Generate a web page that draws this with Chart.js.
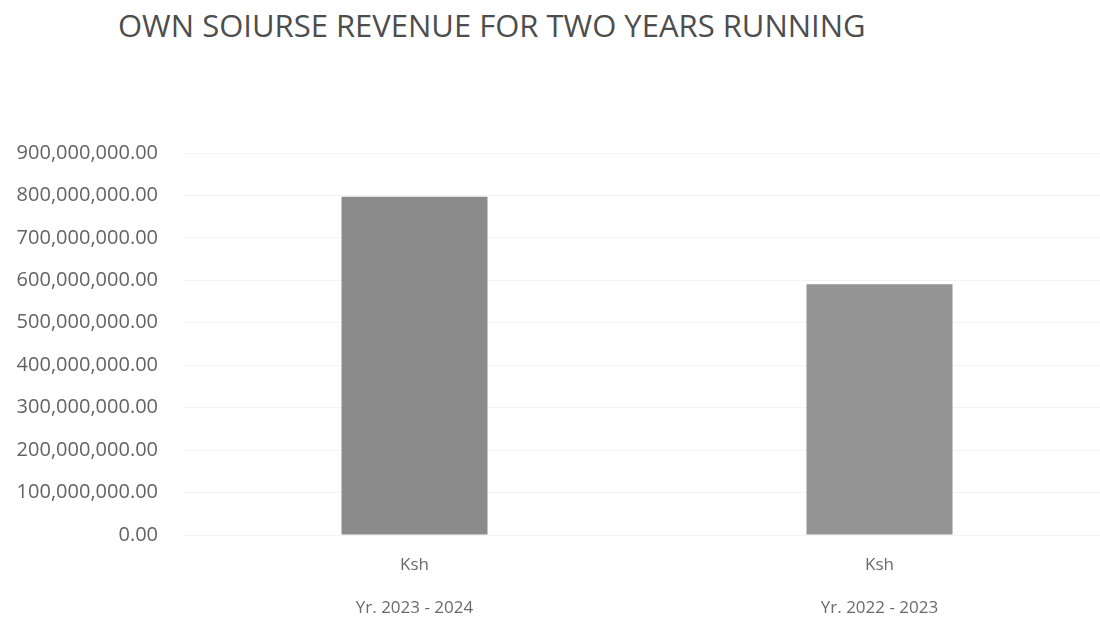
<!DOCTYPE html>
<html>
<head>
<meta charset="utf-8">
<script src="https://cdn.jsdelivr.net/npm/chart.js@4/dist/chart.umd.min.js"></script>
<style>
    html, body { margin: 0; padding: 0; background: #fff; overflow: hidden; }
    #title {
        position: absolute; left: 118px; top: 4px;
        font-family: 'Open Sans', sans-serif; font-size: 31px; color: #4d4d4d;
        white-space: nowrap;
    }
    #wrap { position: absolute; left: 0; top: 0; width: 1112px; height: 618px; }
</style>
</head>
<body>
<div id="title">OWN SOIURSE REVENUE FOR TWO YEARS RUNNING</div>
<div id="wrap"><canvas id="chart"></canvas></div>
<script>
// Own source revenue, Ksh
const CATEGORIES = [['Ksh', '', 'Yr. 2023 - 2024'], ['Ksh', '', 'Yr. 2022 - 2023']];
const REVENUE = [797000000, 591000000];
const BAR_COLORS = ['#8b8b8b', '#949494'];
const Y_MAX = 900000000;
const Y_STEP = 100000000;

const fmt = v => v.toLocaleString('en-US', { minimumFractionDigits: 2, maximumFractionDigits: 2 });

new Chart(document.getElementById('chart'), {
    type: 'bar',
    data: {
        labels: CATEGORIES,
        datasets: [{
            data: REVENUE,
            backgroundColor: BAR_COLORS,
            borderWidth: 0,
            categoryPercentage: 1,
            barPercentage: 0.314
        }]
    },
    options: {
        responsive: true,
        maintainAspectRatio: false,
        animation: false,
        layout: { padding: { top: 153, right: 0, bottom: 0, left: 0 } },
        plugins: { legend: { display: false }, tooltip: { enabled: false } },
        scales: {
            x: {
                grid: { display: false },
                border: { display: false },
                afterFit: scale => { scale.height = 83; },
                ticks: {
                    color: '#6a6a6a',
                    padding: 12,
                    font: { family: 'Open Sans', size: 17, lineHeight: 1.24 }
                }
            },
            y: {
                min: 0,
                max: Y_MAX,
                grid: { color: '#f4f4f4', drawTicks: false },
                border: { display: false },
                afterFit: scale => { scale.width = 182; },
                ticks: {
                    stepSize: Y_STEP,
                    padding: 24,
                    color: '#636363',
                    font: { family: 'Open Sans', size: 20 },
                    callback: v => fmt(v)
                }
            }
        }
    }
});
</script>
</body>
</html>
